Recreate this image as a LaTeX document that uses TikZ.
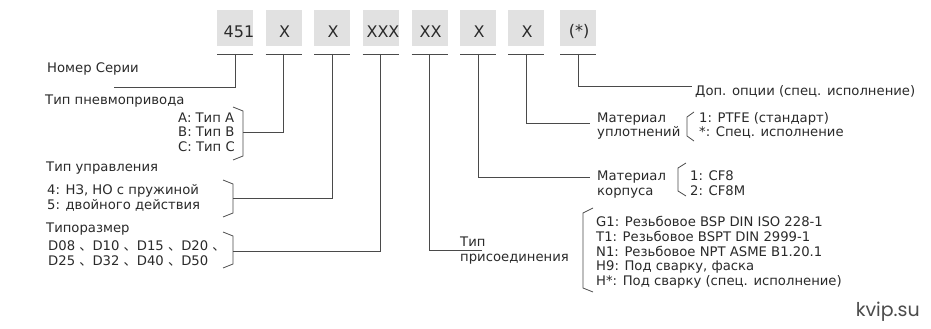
\documentclass[tikz,border=0pt]{standalone}
\usepackage{fontspec}
\setmainfont{DejaVu Sans}
\newfontfamily\cjk{Noto Sans CJK SC}
\newfontfamily\logofont{Poppins}
\begin{document}
\begin{tikzpicture}[x=1pt,y=-1pt,
  codebox/.style={fill=boxgray,minimum width=36pt,minimum height=36pt,inner sep=0pt,text=txt},
  lbl/.style={anchor=base west,inner sep=0pt,font=\fontsize{13.2}{15}\selectfont,text=txt},
  ln/.style={draw=lngray,line width=0.9pt},
  brk/.style={draw=lngray,line width=0.8pt}]
\definecolor{boxgray}{HTML}{E1E1E1}
\definecolor{txt}{HTML}{2A2A2A}
\definecolor{lngray}{HTML}{4A4A4A}
\useasboundingbox[fill=white] (0,0) rectangle (931,329);
% code boxes
\foreach \n/\x/\t/\s in {b1/235/451/4,b2/283.5/X/1,b3/332/X/1,b4/380.5/XXX/2.5,b5/429.5/XX/1,b6/478/X/1,b7/526/X/1,b8/578/(*)/1}{
  \node[codebox] (\n) at (\x,28) {};
  \node[font=\fontsize{16}{18}\selectfont,text=txt,inner sep=0pt] at ([xshift=\s pt,yshift=-3.5pt]\n.center) {\t};
  \draw[ln] (\x-18,54) -- (\x+18,54);
  \coordinate (\n top) at (\x,54);
}
% left labels
\node[lbl] (lser) at (47,73) {Номер Серии};
\node[lbl] (lpnev) at (45,104) {Тип пневмопривода};
\node[lbl] (la) at (178,122) {A: Тип A};
\node[lbl] (lb) at (178,136.5) {B: Тип B};
\node[lbl] (lc) at (178,151) {C: Тип C};
\node[lbl] (lupr) at (46,171) {Тип управления};
\node[lbl] (l4) at (47,194) {4: НЗ, НО с пружиной};
\node[lbl] (l5) at (47,209) {5: двойного действия};
\node[lbl] (lsize) at (46,232) {Типоразмер};
\node[lbl] (ld1) at (48,250) {D08 {\cjk 、}D10 {\cjk 、}D15 {\cjk 、}D20 {\cjk 、}};
\node[lbl] (ld2) at (48,265) {D25 {\cjk 、}D32 {\cjk 、}D40 {\cjk 、}D50};
% right labels
\node[lbl] (lopt) at (695,95) {Доп. опции (спец. исполнение)};
\node[lbl] (lmu1) at (597,122) {Материал};
\node[lbl] (lmu2) at (597,136.5) {уплотнений};
\node[lbl] (lu1) at (699,122) {1: PTFE (стандарт)};
\node[lbl] (lu2) at (699,136.5) {*: Спец. исполнение};
\node[lbl] (lmk1) at (597,180) {Материал};
\node[lbl] (lmk2) at (597,195) {корпуса};
\node[lbl] (lk1) at (690,180) {1: CF8};
\node[lbl] (lk2) at (690,195) {2: CF8M};
\node[lbl] (lcon1) at (460,246.5) {Тип};
\node[lbl] (lcon2) at (460,261) {присоединения};
\node[lbl] (lg1) at (596,226.5) {G1: Резьбовое BSP DIN ISO 228-1};
\node[lbl] (lt1) at (596,241.3) {T1: Резьбовое BSPT DIN 2999-1};
\node[lbl] (ln1) at (596,256.1) {N1: Резьбовое NPT ASME B1.20.1};
\node[lbl] (lh9) at (596,270.9) {H9: Под сварку, фаска};
\node[lbl] (lhs) at (596,285.7) {H*: Под сварку (спец. исполнение)};
\node[anchor=base east,inner sep=0pt,font=\logofont\fontsize{19}{21}\selectfont,text=black!70] (logo) at (920,316) {kvip.su};
% brackets
\draw[brk] (233,107) -- (243,111) -- (243,156) -- (233,160);
\draw[brk] (223,180) -- (233,184) -- (233,213) -- (223,217);
\draw[brk] (223,232) -- (233,236) -- (233,264) -- (223,268);
\draw[brk] (694,112) -- (687,117) -- (687,136) -- (694,141);
\draw[brk] (686,163) -- (678,168) -- (678,191) -- (686,196);
\draw[brk] (593,208) -- (583,213) -- (583,288) -- (593,292);
% connectors
\coordinate (c1) at (114,87);
\draw[ln] (b1top) |- (c1);
\coordinate (c2) at (243,132);
\draw[ln] (b2top) |- (c2);
\coordinate (c3) at (233,198);
\draw[ln] (b3top) |- (c3);
\coordinate (c4) at (233,251);
\draw[ln] (b4top) |- (c4);
\coordinate (c5) at (482,250);
\draw[ln] (b5top) |- (c5);
\coordinate (c6) at (590,177);
\draw[ln] (b6top) |- (c6);
\coordinate (c7) at (590,123);
\draw[ln] (b7top) |- (c7);
\coordinate (c8) at (692,86);
\draw[ln] (b8top) |- (c8);
\end{tikzpicture}
\end{document}
